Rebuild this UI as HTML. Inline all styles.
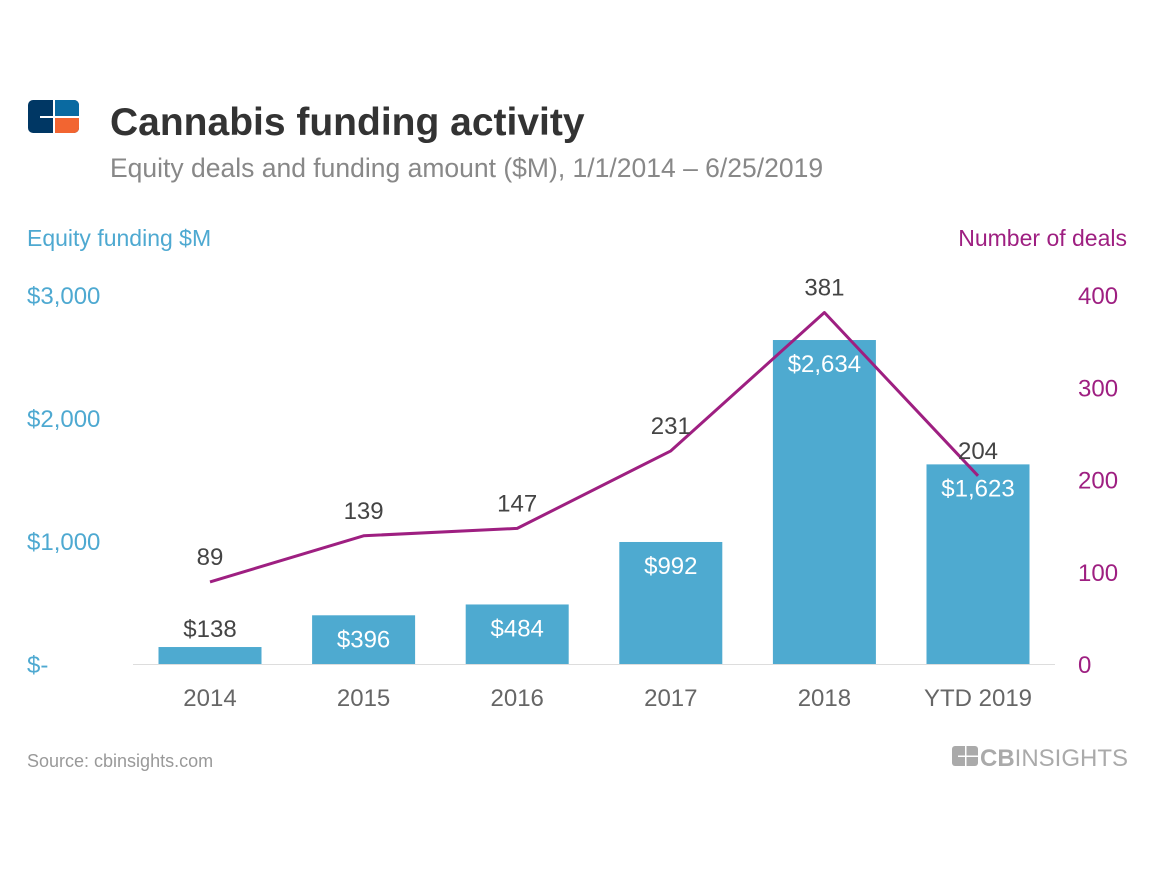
<!DOCTYPE html>
<html><head><meta charset="utf-8"><style>
body{margin:0;background:#fff;}
svg text{font-family:"Liberation Sans",sans-serif;}
</style></head><body>
<svg width="1152" height="864" viewBox="0 0 1152 864">
<g>
<rect x="28" y="100" width="51" height="33" rx="5" fill="#003764"/>
<path d="M55 100 H74 A5 5 0 0 1 79 105 V116 H55 Z" fill="#0a6aa1"/>
<path d="M55 118 H79 V128 A5 5 0 0 1 74 133 H55 Z" fill="#f26531"/>
<rect x="53" y="100" width="2" height="33" fill="#fff"/>
<rect x="40" y="116" width="39" height="2" fill="#fff"/>
</g>
<text x="110" y="135" font-size="39" font-weight="bold" fill="#333">Cannabis funding activity</text>
<text x="110" y="177" font-size="26.5" fill="#888">Equity deals and funding amount ($M), 1/1/2014 – 6/25/2019</text>
<text x="27" y="246" font-size="23" fill="#4ea9d1">Equity funding $M</text>
<text x="1127" y="246" font-size="23" fill="#9e1f81" text-anchor="end">Number of deals</text>
<g id="plot"></g>
<text x="27" y="767" font-size="18" fill="#999">Source: cbinsights.com</text>
<g>
<rect x="952" y="746" width="26" height="20" rx="3" fill="#aaa"/>
<rect x="965" y="746" width="1.5" height="20" fill="#fff"/>
<rect x="958" y="755.5" width="20" height="1.5" fill="#fff"/>
<text x="980" y="766" font-size="24" fill="#aaa" font-weight="bold">CB<tspan font-weight="normal">INSIGHTS</tspan></text>
</g>
</svg>
<script>
const categories=["2014","2015","2016","2017","2018","YTD 2019"];
const funding=[138,396,484,992,2634,1623];
const deals=[89,139,147,231,381,204];
const leftTicks=[0,1000,2000,3000];
const leftTickLabels=["$-","$1,000","$2,000","$3,000"];
const rightTicks=[0,100,200,300,400];
const NS="http://www.w3.org/2000/svg";
const g=document.getElementById('plot');
const y0=664,yTop=295;
const yL=v=>y0-(v/3000)*(y0-yTop);
const yR=v=>y0-(v/400)*(y0-yTop);
const x=i=>210+i*153.6;
const bw=103;
function mk(t,a,txt){const e=document.createElementNS(NS,t);for(const k in a)e.setAttribute(k,a[k]);if(txt!=null)e.textContent=txt;g.appendChild(e);return e;}
leftTicks.forEach((v,i)=>{const e=mk('text',{x:27,y:yL(v)+9,'font-size':24,fill:'#4ea9d1'},leftTickLabels[i]);

});
rightTicks.forEach(v=>{const e=mk('text',{x:1078,y:yR(v)+9,'font-size':24,fill:'#9e1f81'},String(v));

});
funding.forEach((v,i)=>{const r=mk('rect',{x:x(i)-bw/2,y:yL(v),width:bw,height:y0-yL(v),fill:'#4eaad0'});


const inside=(y0-yL(v))>40;
const t=mk('text',{x:x(i),y:inside?yL(v)+32:yL(v)-10,'font-size':24,fill:inside?'#fff':'#444','text-anchor':'middle'},'$'+v.toLocaleString('en-US'));


const c=mk('text',{x:x(i),y:706,'font-size':24,fill:'#666','text-anchor':'middle'},categories[i]);

});
const ax=mk('line',{x1:133,x2:1055,y1:y0+0.5,y2:y0+0.5,stroke:'#ddd','stroke-width':1});


const pl=mk('polyline',{points:deals.map((v,i)=>x(i)+','+yR(v)).join(' '),fill:'none',stroke:'#9e1f81','stroke-width':3,'stroke-linejoin':'round'});


deals.forEach((v,i)=>{const t=mk('text',{x:x(i),y:yR(v)-17,'font-size':24,fill:'#444','text-anchor':'middle'},String(v));

});
</script>
</body></html>
